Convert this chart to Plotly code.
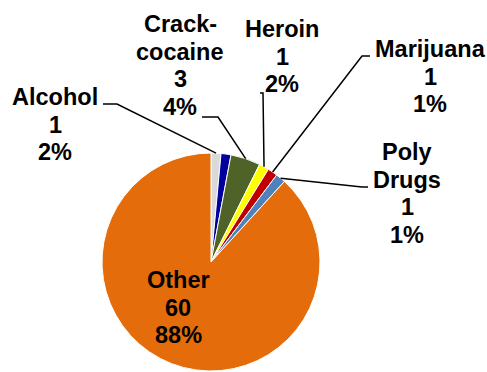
import math
import plotly.graph_objects as go

# ---- data (clockwise from 12 o'clock) ----
categories = ["Alcohol", "(unlabeled)", "Crack-cocaine", "Heroin", "Marijuana", "Poly Drugs", "Other"]
counts = [1, 1, 3, 1, 1, 1, 60]
pct_labels = ["2%", "", "4%", "2%", "1%", "1%", "88%"]
colors = ["#D9D9D9", "#00009C", "#4F6228", "#FFFF00", "#C00000", "#4F81BD", "#E46C0A"]

# label text lines (as shown in chart)
label_lines = {
    "Alcohol": ["Alcohol"],
    "Crack-cocaine": ["Crack-", "cocaine"],
    "Heroin": ["Heroin"],
    "Marijuana": ["Marijuana"],
    "Poly Drugs": ["Poly", "Drugs"],
    "Other": ["Other"],
}

W, H = 487, 372
# pie geometry (pixels)
CX, CY, R = 211, 262, 109
dom_x = [(CX - R) / W, (CX + R) / W]
dom_y = [1 - (CY + R) / H, 1 - (CY - R) / H]

def px(x):
    return x / W

def py(y):
    return 1 - y / H

fig = go.Figure(go.Pie(
    labels=categories, values=counts, sort=False, direction="clockwise", rotation=0,
    marker=dict(colors=colors, line=dict(color="white", width=1)),
    textinfo="none", hoverinfo="label+value+percent", domain=dict(x=dom_x, y=dom_y),
    showlegend=False,
))

# label placement (layout): center x, first line y, and leader elbow points
label_pos = {
    "Alcohol": dict(x=55, y=97, elbow=[(103, 104), (117, 104)]),
    "Crack-cocaine": dict(x=180, y=24, elbow=[(202, 117), (218, 117)]),
    "Heroin": dict(x=282, y=29, elbow=[(260, 93), (263, 93)]),
    "Marijuana": dict(x=430, y=49, elbow=[(370, 56), (362, 56)]),
    "Poly Drugs": dict(x=407, y=152, elbow=[(368, 187), (362, 187)]),
    "Other": dict(x=178, y=280, elbow=None),
}
LINE_H = 27.6
FONT = dict(family="Liberation Sans, Arial, sans-serif", size=23.5, color="black", weight="bold")

total = sum(counts)
cum = 0
annotations, shapes = [], []
for name, v, pct in zip(categories, counts, pct_labels):
    mid = (cum + v / 2) / total * 2 * math.pi
    cum += v
    if name not in label_pos:
        continue
    lp = label_pos[name]
    lines = label_lines[name] + [str(v), pct]
    for i, t in enumerate(lines):
        annotations.append(dict(
            x=px(lp["x"]), y=py(lp["y"] + i * LINE_H), xref="paper", yref="paper",
            text=t, showarrow=False, xanchor="center", yanchor="middle", font=FONT,
        ))
    if lp["elbow"]:
        ex = CX + R * math.sin(mid)
        ey = CY - R * math.cos(mid)
        pts = lp["elbow"] + [(ex, ey)]
        path = "M " + " L ".join(f"{px(a)},{py(b)}" for a, b in pts)
        shapes.append(dict(type="path", path=path, xref="paper", yref="paper",
                           line=dict(color="black", width=1.5)))

fig.update_layout(
    width=W, height=H, margin=dict(l=0, r=0, t=0, b=0),
    paper_bgcolor="white", plot_bgcolor="white",
    annotations=annotations, shapes=shapes,
)
fig.write_html("out.html", config={"displayModeBar": False},
               post_script="document.body.style.margin='0';document.body.style.overflow='hidden';")
